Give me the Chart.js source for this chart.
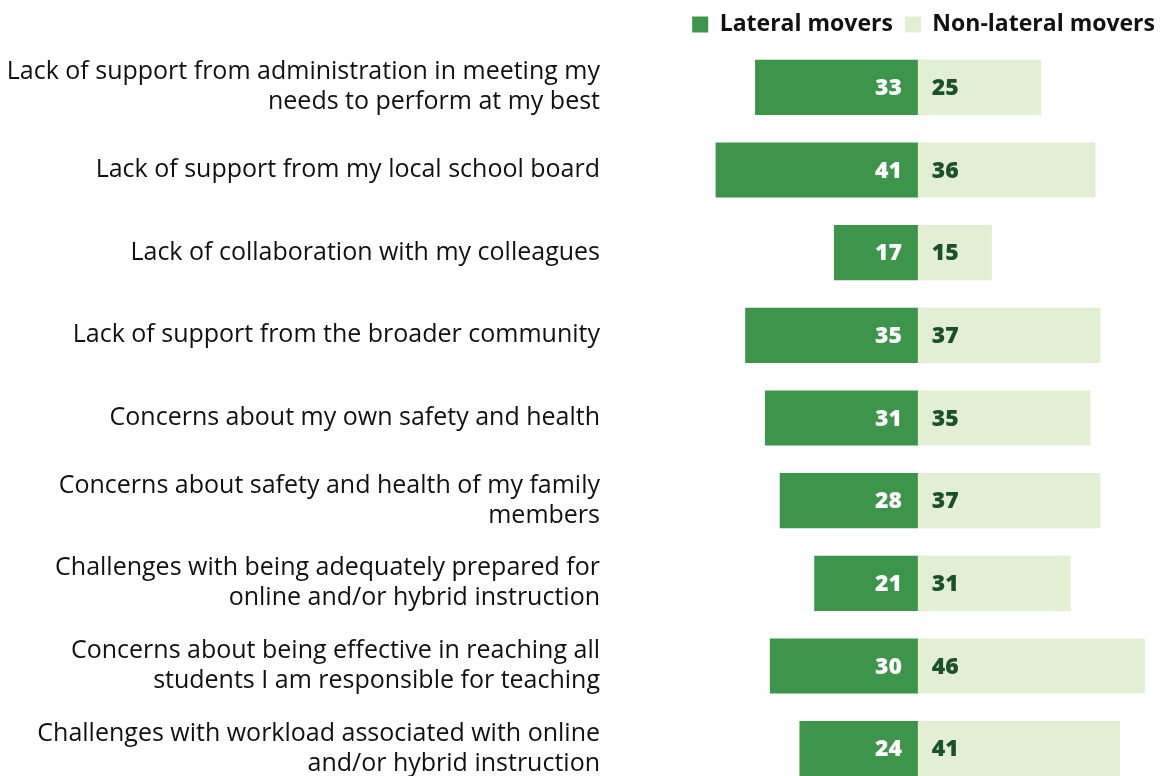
<!DOCTYPE html>
<html>
<head>
<meta charset="utf-8">
<script src="https://cdn.jsdelivr.net/npm/chart.js@4.4.1/dist/chart.umd.min.js"></script>
<style>
  html, body { margin: 0; padding: 0; background: #fff; overflow: hidden; }
  #wrap { width: 1167px; height: 790px; position: relative; }
</style>
</head>
<body>
<div id="wrap"><canvas id="myChart"></canvas></div>
<script>
const categories = [
    ['Lack of support from administration in meeting my', 'needs to perform at my best'],
    'Lack of support from my local school board',
    'Lack of collaboration with my colleagues',
    'Lack of support from the broader community',
    'Concerns about my own safety and health',
    ['Concerns about safety and health of my family', 'members'],
    ['Challenges with being adequately prepared for', 'online and/or hybrid instruction'],
    ['Concerns about being effective in reaching all', 'students I am responsible for teaching'],
    ['Challenges with workload associated with online', 'and/or hybrid instruction']
];
const lateralMovers = [33, 41, 17, 35, 31, 28, 21, 30, 24];
const nonLateralMovers = [25, 36, 15, 37, 35, 37, 31, 46, 41];

const FONT = '"Open Sans", Lato, sans-serif';

// draw the numbers inside the bars, next to the zero line
const valueLabels = {
    id: 'valueLabels',
    afterDatasetsDraw(chart) {
        const ctx = chart.ctx;
        const zero = chart.scales.x.getPixelForValue(0);
        ctx.save();
        ctx.font = '800 23px ' + FONT;
        ctx.textBaseline = 'middle';
        chart.data.datasets.forEach((ds, di) => {
            const meta = chart.getDatasetMeta(di);
            meta.data.forEach((bar, i) => {
                const v = Math.abs(ds.data[i]);
                if (di === 0) {
                    ctx.fillStyle = '#ffffff';
                    ctx.textAlign = 'right';
                    ctx.fillText(v, zero - 16, bar.y + 1);
                } else {
                    ctx.fillStyle = '#1b5128';
                    ctx.textAlign = 'left';
                    ctx.fillText(v, zero + 14, bar.y + 1);
                }
            });
        });
        ctx.restore();
    }
};

let myChart = new Chart(document.getElementById('myChart'), {
    type: 'bar',
    data: {
        labels: categories,
        datasets: [{
            label: 'Lateral movers',
            data: lateralMovers.map(v => -v),
            backgroundColor: '#3d944b',
            borderWidth: 0,
            barPercentage: 1,
            categoryPercentage: 0.667
        }, {
            label: 'Non-lateral movers',
            data: nonLateralMovers,
            backgroundColor: '#e2efd2',
            borderWidth: 0,
            barPercentage: 1,
            categoryPercentage: 0.667
        }]
    },
    options: {
        indexAxis: 'y',
        responsive: true,
        maintainAspectRatio: false,
        animation: false,
        layout: {
            padding: { top: 1, right: 0, bottom: 0, left: 0 }
        },
        scales: {
            x: {
                stacked: true,
                display: false,
                min: -62,
                max: 50.5
            },
            y: {
                stacked: true,
                grid: { display: false, drawTicks: false },
                border: { display: false },
                ticks: {
                    color: '#111111',
                    padding: 12,
                    font: { family: FONT, size: 25, weight: 500, lineHeight: 1.2 }
                },
                afterFit(scale) {
                    scale.width = 612;
                    scale.paddingTop = 0;
                    scale.paddingBottom = 0;
                }
            }
        },
        plugins: {
            legend: {
                position: 'top',
                align: 'end',
                labels: {
                    color: '#111111',
                    boxWidth: 16,
                    boxHeight: 16,
                    padding: 12,
                    font: { family: FONT, size: 23, weight: 'bold' }
                }
            },
            tooltip: { enabled: false }
        }
    },
    plugins: [valueLabels]
});
</script>
</body>
</html>
